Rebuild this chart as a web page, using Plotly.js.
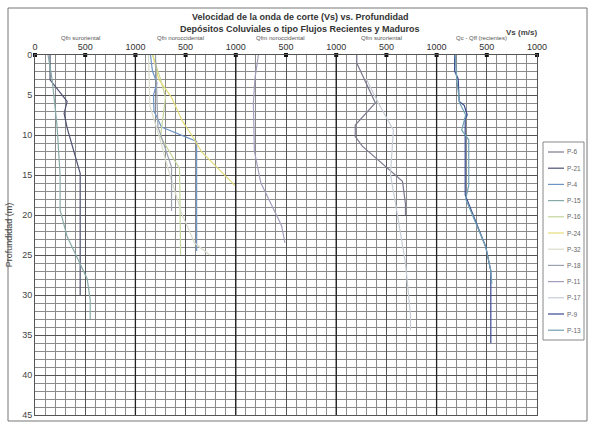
<!DOCTYPE html>
<html><head><meta charset="utf-8">
<script src="https://cdn.plot.ly/plotly-3.0.1.min.js"></script>
<style>body{margin:0;background:#fff}#c{width:590px;height:424px}</style>
</head><body><div id="c"></div>
<script>
// ---- data (Vs in m/s, depth in m) ----
const panelLabels = ['Qfn suroriental','Qfn noroccidental','Qfm noroccidental','Qfm suroriental','Qc - Qff (recientes)'];
const xTickVals = [0,500,1000,1500,2000,2500,3000,3500,4000,4500,5000];
const xTickText = ['0','500','1000','500','1000','500','1000','500','1000','500','1000'];
const yTickVals = [0,5,10,15,20,25,30,35,40,45];

const seriesNames  = ['P-6','P-21','P-4','P-15','P-16','P-24','P-32','P-18','P-11','P-17','P-9','P-13'];
const seriesPanel  = [3, 0, 1, 0, 1, 1, 1, 1, 2, 3, 4, 4];
const seriesColors = ['#7c7a90','#4e5272','#6e94c8','#86aaa8','#c4d49a','#e4dc78','#d8dccb','#9aa2b0','#a49cbc','#c6ccd6','#37488e','#6fa0b4'];

const p6_d  = [0, 1, 6, 8.75, 10.2, 11.4, 15.8, 18.6, 20];
const p6_v  = [205, 205, 390, 190, 190, 260, 660, 690, 690];
const p21_d = [0, 3.1, 5.8, 7.3, 9.1, 14.8, 30];
const p21_v = [150, 150, 320, 290, 320, 450, 450];
const p4_d  = [0, 2, 3.5, 5, 7, 9, 10.8, 24.5];
const p4_v  = [150, 170, 215, 180, 185, 260, 610, 610];
const p15_d = [0, 3, 8.9, 15, 19.4, 22.7, 25.6, 28, 30.6, 33];
const p15_v = [130, 170, 220, 250, 250, 320, 430, 520, 550, 550];
const p16_d = [0, 3, 5.3, 8, 10.2, 14.2, 25];
const p16_v = [170, 250, 300, 270, 250, 440, 450];
const p24_d = [0, 3, 5.3, 8.3, 10, 12.1, 16.3];
const p24_v = [175, 230, 360, 470, 560, 660, 990];
const p32_d = [0, 4, 6.4, 10.3, 14, 19.8, 23.5, 25];
const p32_v = [130, 140, 145, 240, 320, 460, 590, 740];
const p18_d = [0, 4, 9, 14, 19.5];
const p18_v = [200, 210, 225, 360, 360];
const p11_d = [0, 3, 6, 12, 16, 21.3, 23.5];
const p11_v = [225, 190, 175, 185, 250, 455, 490];
const p17_d = [3, 6, 9.4, 14.9, 20, 26, 32.5, 34.4];
const p17_v = [300, 420, 570, 540, 610, 690, 740, 740];
const p9_d  = [0, 2, 3, 5.8, 6.3, 7.5, 8, 17.5, 24, 27, 36];
const p9_v  = [180, 180, 215, 225, 275, 305, 285, 285, 490, 540, 540];
const p13_d = [0, 3, 6, 7.5, 9.4, 10.6, 16.3, 18, 24, 27, 28.6];
const p13_v = [185, 200, 230, 290, 250, 320, 320, 290, 490, 540, 550];

const depths = [p6_d,p21_d,p4_d,p15_d,p16_d,p24_d,p32_d,p18_d,p11_d,p17_d,p9_d,p13_d];
const speeds = [p6_v,p21_v,p4_v,p15_v,p16_v,p24_v,p32_v,p18_v,p11_v,p17_v,p9_v,p13_v];

const PANEL_W = 1000;
const traces = seriesNames.map((n,i)=>({
  type:'scatter', mode:'lines', name:n,
  x: speeds[i].map(v=>v + seriesPanel[i]*PANEL_W),
  y: depths[i],
  line:{color:seriesColors[i], width:1.2}
}));
// tick markers on top axis
traces.push({type:'scatter', mode:'markers', x:xTickVals, y:xTickVals.map(()=>0),
  marker:{symbol:'square', size:4, color:'#111'}, cliponaxis:false, showlegend:false, hoverinfo:'skip'});

// pixel -> paper helpers (plot area 35..537 x 55..415)
const L=35, T=55, W=502, H=360;
const px = p => (p-L)/W, py = p => 1-(p-T)/H;

const font = 'Liberation Sans, Arial, sans-serif';
const annotations = [
  {text:'<b>Velocidad de la onda de corte (Vs) vs. Profundidad</b>', xref:'paper', yref:'paper', x:px(300), y:py(17), xanchor:'center', yanchor:'middle', showarrow:false, font:{family:font,size:9,color:'#333'}},
  {text:'<b>Depósitos Coluviales o tipo Flujos Recientes y Maduros</b>', xref:'paper', yref:'paper', x:px(300), y:py(29), xanchor:'center', yanchor:'middle', showarrow:false, font:{family:font,size:9,color:'#333'}},
  {text:'<b>Vs (m/s)</b>', xref:'paper', yref:'paper', x:px(521), y:py(32), xanchor:'center', yanchor:'middle', showarrow:false, font:{family:font,size:8,color:'#444'}}
];
panelLabels.forEach((t,k)=>annotations.push({text:t, xref:'x', yref:'paper', x:k*PANEL_W+450, y:py(38), xanchor:'center', yanchor:'middle', showarrow:false, font:{family:font,size:6,color:'#555'}}));

const shapes = [
  {type:'rect', xref:'paper', yref:'paper', x0:px(8), x1:px(587), y0:py(421), y1:py(8), line:{color:'#777',width:1}, layer:'below'}
];
for(let k=1;k<panelLabels.length;k++) shapes.push({type:'line', xref:'x', yref:'paper', x0:k*PANEL_W, x1:k*PANEL_W, y0:0, y1:1, line:{color:'#222',width:1.3}});

// manual legend
const LEG_TOP=142, LEG_BOT=340, LEG_L=543, LEG_R=584, ITEM0=152, STEP=16.2;
shapes.push({type:'rect', xref:'paper', yref:'paper', x0:px(LEG_L), x1:px(LEG_R), y0:py(LEG_BOT), y1:py(LEG_TOP), line:{color:'#888',width:1}, fillcolor:'#fff'});
seriesNames.forEach((n,i)=>{
  const yy = ITEM0 + i*STEP;
  shapes.push({type:'line', xref:'paper', yref:'paper', x0:px(548), x1:px(564), y0:py(yy), y1:py(yy), line:{color:seriesColors[i], width:1.2}});
  annotations.push({text:n, xref:'paper', yref:'paper', x:px(566), y:py(yy), xanchor:'left', yanchor:'middle', showarrow:false, borderpad:0, font:{family:font,size:6.5,color:'#666'}});
});

const layout = {
  width:590, height:424, paper_bgcolor:'#fff', plot_bgcolor:'#fff',
  margin:{l:L, r:590-L-W, t:T, b:424-T-H, autoexpand:false},
  showlegend:false,
  xaxis:{range:[0,5000], side:'top', tickmode:'array', tickvals:xTickVals, ticktext:xTickText,
    tickfont:{family:font,size:9,color:'#333'}, ticks:'', showgrid:true, gridcolor:'#555', gridwidth:1,
    minor:{tickmode:'linear', tick0:0, dtick:100, showgrid:true, gridcolor:'#8a8a8a', gridwidth:1, ticks:''},
    zeroline:false, showline:true, linecolor:'#555', mirror:true, fixedrange:true},
  yaxis:{range:[45,0], tickmode:'array', tickvals:yTickVals, tickfont:{family:font,size:9,color:'#444'},
    ticks:'', showgrid:true, gridcolor:'#555', gridwidth:1,
    minor:{tickmode:'linear', tick0:0, dtick:1, showgrid:true, gridcolor:'#8a8a8a', gridwidth:1, ticks:''},
    zeroline:false, showline:true, linecolor:'#555', mirror:true,
    title:{text:'Profundidad (m)', font:{family:font,size:9,color:'#444'}, standoff:8}},
  annotations:annotations, shapes:shapes
};
Plotly.newPlot('c', traces, layout, {staticPlot:true});
</script></body></html>
